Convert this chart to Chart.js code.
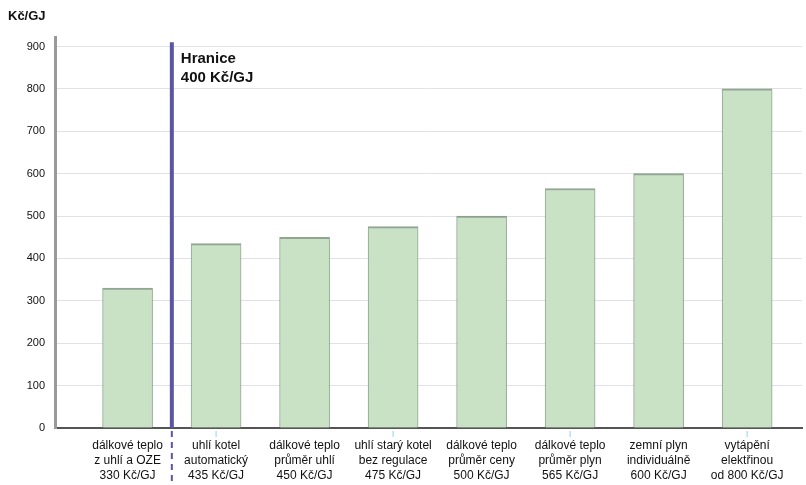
<!DOCTYPE html>
<html>
<head>
<meta charset="utf-8">
<script src="https://cdn.jsdelivr.net/npm/chart.js@4"></script>
<style>
  html, body { margin: 0; padding: 0; background: #fff; }
  #wrap { width: 806px; height: 485px; }
</style>
</head>
<body>
<div id="wrap"><canvas id="priceChart"></canvas></div>
<script>
// kategorie (popisky pod osou, po řádcích)
const categories = [
    ['dálkové teplo', 'z uhlí a OZE', '330 Kč/GJ'],
    ['uhlí kotel', 'automatický', '435 Kč/GJ'],
    ['dálkové teplo', 'průměr uhlí', '450 Kč/GJ'],
    ['uhlí starý kotel', 'bez regulace', '475 Kč/GJ'],
    ['dálkové teplo', 'průměr ceny', '500 Kč/GJ'],
    ['dálkové teplo', 'průměr plyn', '565 Kč/GJ'],
    ['zemní plyn', 'individuálně', '600 Kč/GJ'],
    ['vytápění', 'elektřinou', 'od 800 Kč/GJ'],
];
const prices = [330, 435, 450, 475, 500, 565, 600, 800];
const yTicks = [0, 100, 200, 300, 400, 500, 600, 700, 800, 900];
const unitLabel = 'Kč/GJ';
const boundaryAt = 0.5;            // mezi 1. a 2. kategorií
const boundaryTop = 910;
const boundaryText = ['Hranice', '400 Kč/GJ'];

const FONT = '"Liberation Sans", Arial, sans-serif';

// svislá hranice + popisek + drobné značky pod osou
const boundaryPlugin = {
    id: 'boundary',
    afterDatasetsDraw(chart) {
        const { ctx, scales: { x, y }, chartArea } = chart;
        const px = x.getPixelForValue(boundaryAt);
        ctx.save();
        ctx.strokeStyle = '#5a56a3';
        ctx.lineWidth = 4;
        ctx.beginPath();
        ctx.moveTo(px, y.getPixelForValue(boundaryTop));
        ctx.lineTo(px, chartArea.bottom);
        ctx.stroke();
        // čárkované pokračování pod osou
        ctx.lineWidth = 2;
        ctx.setLineDash([6, 5]);
        ctx.beginPath();
        ctx.moveTo(px, chartArea.bottom + 3);
        ctx.lineTo(px, chart.height);
        ctx.stroke();
        ctx.setLineDash([]);

        // modré značky pod osou u sudých kategorií
        ctx.strokeStyle = '#8fd3ee';
        ctx.lineWidth = 1;
        for (let i = 1; i < categories.length; i += 2) {
            const tx = x.getPixelForValue(i);
            ctx.beginPath();
            ctx.moveTo(tx, chartArea.bottom + 3);
            ctx.lineTo(tx, chartArea.bottom + 9);
            ctx.stroke();
        }

        // popisek s bílým podkladem
        const ty = y.getPixelForValue(boundaryTop);
        ctx.fillStyle = '#fff';
        ctx.fillRect(px + 6, ty + 8, 92, 36);
        ctx.fillStyle = '#111';
        ctx.font = 'bold 15px ' + FONT;
        ctx.textBaseline = 'middle';
        ctx.fillText(boundaryText[0], px + 9, ty + 17);
        ctx.fillText(boundaryText[1], px + 9, ty + 36);
        ctx.restore();
    }
};

const ctx = document.getElementById('priceChart').getContext('2d');
new Chart(ctx, {
    type: 'bar',
    data: {
        datasets: [{
            label: unitLabel,
            data: prices.map((v, i) => ({ x: i, y: v })),
            backgroundColor: '#c9e2c5',
            borderColor: 'rgba(110,135,110,0.75)',
            borderWidth: { top: 2, left: 1, right: 1, bottom: 0 },
            borderSkipped: false,
            barThickness: 50,
        }]
    },
    options: {
        responsive: true,
        maintainAspectRatio: false,
        animation: false,
        layout: { padding: { left: 8, right: 4, top: 0, bottom: -8 } },
        plugins: {
            legend: { display: false },
            tooltip: { enabled: false },
            title: {
                display: true,
                text: unitLabel,
                align: 'start',
                color: '#111',
                font: { family: FONT, size: 13, weight: 'bold' },
                padding: { top: 9, bottom: 13 },
            },
        },
        scales: {
            x: {
                type: 'linear',
                offset: false,
                min: -0.82,
                max: 7.62,
                afterBuildTicks: scale => {
                    scale.ticks = categories.map((_, i) => ({ value: i }));
                },
                ticks: {
                    autoSkip: false,
                    maxRotation: 0,
                    padding: 10,
                    color: '#111',
                    font: { family: FONT, size: 12, lineHeight: 1.25 },
                    callback: v => categories[v],
                },
                grid: { display: false, drawTicks: false },
                border: { color: '#555', width: 2 },
            },
            y: {
                min: 0,
                max: 921,
                afterBuildTicks: scale => {
                    scale.ticks = yTicks.map(v => ({ value: v }));
                },
                afterFit: scale => { scale.width = 47; },
                ticks: {
                    padding: 10,
                    color: '#111',
                    font: { family: FONT, size: 11 },
                },
                grid: { color: '#dfe3e8', lineWidth: 1, drawTicks: false },
                border: { color: '#9a9a9a', width: 3 },
            }
        }
    },
    plugins: [boundaryPlugin]
});
</script>
</body>
</html>
